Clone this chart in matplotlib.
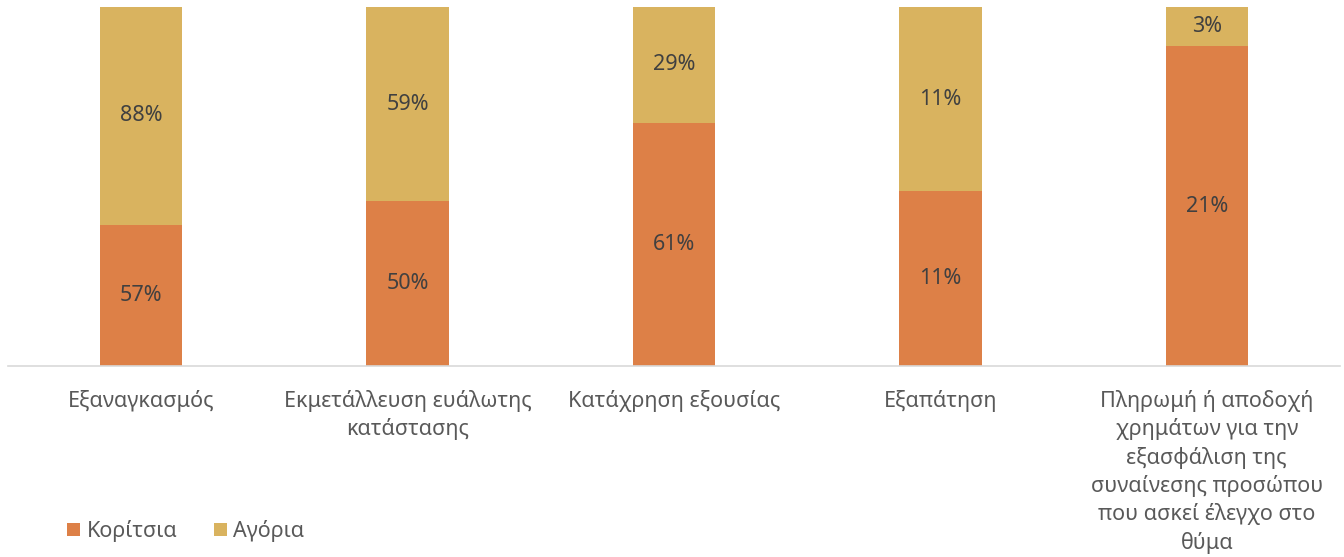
import matplotlib.pyplot as plt
import numpy as np

plt.rcParams['font.family'] = ['Noto Sans', 'DejaVu Sans']

categories = ['Εξαναγκασμός',
              'Εκμετάλλευση ευάλωτης\nκατάστασης',
              'Κατάχρηση εξουσίας',
              'Εξαπάτηση',
              'Πληρωμή ή αποδοχή\nχρημάτων για την\nεξασφάλιση της\nσυναίνεσης προσώπου\nπου ασκεί έλεγχο στο\nθύμα']
girls = [57, 50, 61, 10.6, 21.2]
boys = [88, 59, 29, 11.2, 2.6]

c_girls = '#DD8047'
c_boys = '#D9B35F'
txt = '#404040'
txt_axis = '#595959'
fs = 15.5

girls = np.array(girls)
boys = np.array(boys)
total = girls + boys
g_share = girls / total
b_share = boys / total

fig = plt.figure(figsize=(13.44, 5.57), dpi=100)
ax = fig.add_axes([8 / 1344, 1 - 366 / 557, 1332 / 1344, 359 / 557])

x = np.arange(len(categories))
width = 0.31
bar1 = ax.bar(x, g_share, width, color=c_girls, label='Κορίτσια')
bar2 = ax.bar(x, b_share, width, bottom=g_share, color=c_boys, label='Αγόρια')

# labels show the raw percentages, centred in each segment
ax.bar_label(bar1, labels=[f'{round(v)}%' for v in girls], label_type='center',
             fontsize=fs, color=txt)
ax.bar_label(bar2, labels=[f'{round(v)}%' for v in boys], label_type='center',
             fontsize=fs, color=txt)

ax.set_xlim(-0.5, len(categories) - 0.5)
ax.set_ylim(0, 1)
ax.set_yticks([])
ax.set_xticks(x)
ax.set_xticklabels(categories, fontsize=fs, color=txt_axis, linespacing=1.38, va='top')
ax.tick_params(axis='x', length=0, pad=17)
for s in ['top', 'left', 'right']:
    ax.spines[s].set_visible(False)
ax.spines['bottom'].set_color('#D9D9D9')
ax.spines['bottom'].set_linewidth(1.2)

fig.legend(loc='center left', bbox_to_anchor=(48 / 1344, 1 - 531 / 557), ncol=2,
           frameon=False, fontsize=fs, labelcolor=txt_axis, handlelength=0.6,
           handleheight=0.6, handletextpad=0.3, columnspacing=1.7)

fig.savefig('out.png', dpi=100)
